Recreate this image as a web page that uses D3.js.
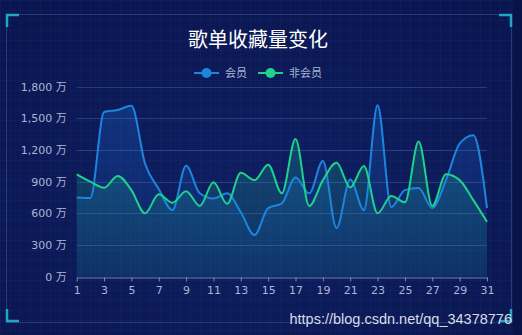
<!DOCTYPE html>
<html>
<head>
<meta charset="utf-8">
<script src="https://cdn.jsdelivr.net/npm/d3@7"></script>
<style>
  html, body { margin: 0; padding: 0; background: #0c1957; }
  svg { display: block; }
</style>
</head>
<body>
<div id="chart"></div>
<script>
// chart data
const days = d3.range(1, 32);
const members = [750, 745, 1560, 1580, 1620, 1070, 830, 630, 1050, 790, 740, 790, 610, 395, 650,
  695, 940, 790, 1095, 460, 920, 630, 1625, 660, 820, 840, 650, 915, 1260, 1340, 650];
const nonMembers = [970, 900, 843, 955, 820, 600, 780, 700, 810, 670, 894, 690, 985, 915, 1060,
  790, 1305, 670, 915, 1080, 846, 1048, 600, 765, 705, 1280, 670, 970, 915, 725, 520];
const yTicks = [0, 300, 600, 900, 1200, 1500, 1800];
const seriesNames = ["会员", "非会员"];
const colors = ["#1c86dc", "#1ed28c"];

const width = 522, height = 335;
const svg = d3.select("#chart").append("svg")
  .attr("width", width)
  .attr("height", height);

const defs = svg.append("defs");

// background with fine grid
const bg = defs.append("radialGradient").attr("id", "bg")
  .attr("cx", "50%").attr("cy", "60%").attr("r", "70%");
bg.append("stop").attr("offset", "0%").attr("stop-color", "#0e1f62");
bg.append("stop").attr("offset", "100%").attr("stop-color", "#0a1650");

const pattern = defs.append("pattern").attr("id", "grid")
  .attr("width", 10).attr("height", 10).attr("patternUnits", "userSpaceOnUse");
pattern.append("path").attr("d", "M10 0 L0 0 0 10")
  .attr("fill", "none").attr("stroke", "rgba(90,120,200,0.1)").attr("stroke-width", 1);

svg.append("rect").attr("width", width).attr("height", height).attr("fill", "url(#bg)");
svg.append("rect").attr("width", width).attr("height", height).attr("fill", "url(#grid)");
svg.append("rect").attr("x", 513).attr("width", 9).attr("height", height).attr("fill", "#09134a");

// frame and corner brackets
svg.append("rect").attr("x", 6.5).attr("y", 14.5).attr("width", 505).attr("height", 308)
  .attr("fill", "none").attr("stroke", "rgba(70,110,190,0.4)");
const corner = "#1fa6c4";
const cornerPaths = [
  "M7 27 V15 H19",
  "M499 15 H511 V27",
  "M7 309 V321 H19",
  "M499 321 H511 V309"
];
svg.selectAll(".corner").data(cornerPaths).enter().append("path")
  .attr("d", d => d).attr("fill", "none").attr("stroke", corner).attr("stroke-width", 2.5);

// scales
const x = d3.scaleLinear().domain([1, 31]).range([76.7, 487]);
const y = d3.scaleLinear().domain([0, 1800]).range([276.7, 86.7]);

// horizontal grid lines
svg.append("g").selectAll("line").data(yTicks.slice(1)).enter().append("line")
  .attr("x1", x(1)).attr("x2", x(31))
  .attr("y1", d => Math.round(y(d)) + 0.5).attr("y2", d => Math.round(y(d)) + 0.5)
  .attr("stroke", "rgba(110,140,210,0.3)");

// areas
const grads = [
  ["blueArea", "rgba(30,120,230,0.28)", "rgba(30,120,230,0.06)"],
  ["greenArea", "rgba(30,200,150,0.28)", "rgba(30,200,150,0.1)"]
];
grads.forEach(g => {
  const lg = defs.append("linearGradient").attr("id", g[0])
    .attr("gradientUnits", "userSpaceOnUse")
    .attr("x1", 0).attr("y1", y(1800)).attr("x2", 0).attr("y2", y(0));
  lg.append("stop").attr("offset", "0%").attr("stop-color", g[1]);
  lg.append("stop").attr("offset", "100%").attr("stop-color", g[2]);
});

const curve = d3.curveMonotoneX;
const series = [members, nonMembers];
const area = d3.area()
  .x((d, i) => x(days[i]))
  .y0(y(0))
  .y1(d => y(d))
  .curve(curve);
const line = d3.line()
  .x((d, i) => x(days[i]))
  .y(d => y(d))
  .curve(curve);

svg.append("g").selectAll("path").data(series).enter().append("path")
  .attr("d", area)
  .attr("fill", (d, i) => `url(#${grads[i][0]})`);

svg.append("g").selectAll("path").data(series).enter().append("path")
  .attr("d", line)
  .attr("fill", "none")
  .attr("stroke", (d, i) => colors[i])
  .attr("stroke-width", 2);

// axes
const labelColor = "#a9b6d6";
const xAxis = svg.append("g")
  .attr("transform", `translate(0,${Math.round(y(0)) + 0.5})`)
  .call(d3.axisBottom(x).tickValues(days.filter(d => d % 2 === 1)).tickSize(4).tickSizeOuter(0));
xAxis.select(".domain").attr("stroke", "rgba(160,180,220,0.7)");
xAxis.selectAll(".tick line").attr("stroke", "rgba(160,180,220,0.7)");
xAxis.selectAll("text").attr("fill", labelColor).attr("font-size", 11)
  .attr("font-family", "DejaVu Sans, sans-serif").attr("dy", "0.9em");

const yAxis = svg.append("g")
  .attr("transform", `translate(${x(1)},0)`)
  .call(d3.axisLeft(y).tickValues(yTicks).tickSize(0).tickPadding(10)
    .tickFormat(d => d3.format(",")(d) + " 万"));
yAxis.select(".domain").remove();
yAxis.selectAll("text").attr("fill", labelColor).attr("font-size", 11)
  .attr("font-family", "DejaVu Sans, 'Noto Sans CJK SC', sans-serif");

// title
svg.append("text")
  .attr("x", 258).attr("y", 47)
  .attr("text-anchor", "middle")
  .attr("fill", "#ffffff")
  .attr("font-size", 20)
  .attr("font-family", "'Noto Sans CJK SC', sans-serif")
  .text("歌单收藏量变化");

// legend
const legend = svg.append("g").attr("transform", "translate(194,73)");
const legendX = [0, 64];
seriesNames.forEach((name, i) => {
  const g = legend.append("g").attr("transform", `translate(${legendX[i]},0)`);
  g.append("line").attr("x1", 0).attr("x2", 25).attr("stroke", colors[i]).attr("stroke-width", 2);
  g.append("circle").attr("cx", 12.5).attr("r", 5).attr("fill", colors[i]);
  g.append("text").attr("x", 31).attr("dy", "0.35em")
    .attr("fill", labelColor).attr("font-size", 11)
    .attr("font-family", "'Noto Sans CJK SC', sans-serif")
    .text(name);
});

// source watermark
svg.append("text")
  .attr("x", 512).attr("y", 324)
  .attr("text-anchor", "end")
  .attr("fill", "#d8dce6")
  .attr("font-size", 14.5)
  .attr("font-family", "Liberation Sans, Arial, sans-serif")
  .text("https://blog.csdn.net/qq_34378776");
</script>
</body>
</html>
